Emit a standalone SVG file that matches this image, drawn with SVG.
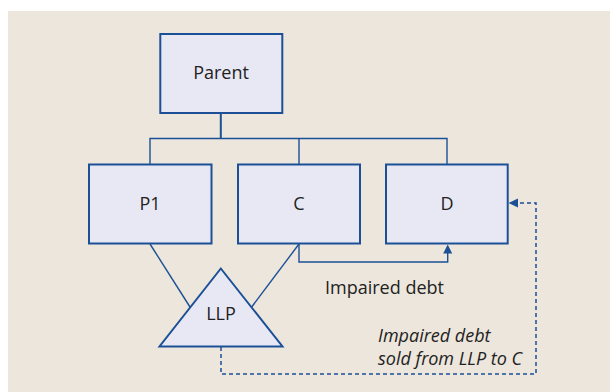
<svg xmlns="http://www.w3.org/2000/svg" width="610" height="392" viewBox="0 0 610 392">
<defs>
<style>
.box{fill:#e8e8f5;stroke:#1b5096;stroke-width:2}
.lbl{font-family:"Open Sans","Noto Sans",sans-serif;font-size:18px;fill:#222;text-anchor:middle}
.ann{font-family:"Open Sans","Noto Sans",sans-serif;font-size:18px;fill:#222}
.it{font-style:italic}
.ln{fill:none;stroke:#1b5096;stroke-width:1.4}
.dash{fill:none;stroke:#1b5096;stroke-width:1.5;stroke-dasharray:4 3}
.ah{fill:#1b5096}
</style>
</defs>
<rect x="8" y="11" width="602" height="381" fill="#ede6dc"/>
<g id="connectors">
<line class="ln" x1="220.8" y1="113" x2="220.8" y2="138.5" style="stroke-width:2"/>
<polyline class="ln" points="150,164 150,138.5 447,138.5 447,164"/>
<line class="ln" x1="299" y1="138.5" x2="299" y2="164"/>
<line class="ln" x1="150" y1="244" x2="190" y2="307"/>
<line class="ln" x1="299" y1="244" x2="251.7" y2="307"/>
<polyline class="ln" points="299,244 299,262 447.7,262 447.7,252"/>
<polygon class="ah" points="447.7,244.5 443.2,253.5 452.2,253.5"/>
<polyline class="dash" points="221,347 221,374 536,374 536,203 517,203"/>
<polygon class="ah" points="508.5,203 518,198.5 518,207.5"/>
</g>
<g id="parent">
<rect class="box" x="160.3" y="34" width="122" height="79"/>
<text class="lbl" x="221" y="79">Parent</text>
</g>
<g id="p1">
<rect class="box" x="89" y="164.5" width="122.5" height="79"/>
<text class="lbl" x="150" y="209.5">P1</text>
</g>
<g id="c">
<rect class="box" x="238" y="164.5" width="122" height="79"/>
<text class="lbl" x="299" y="209.5">C</text>
</g>
<g id="d">
<rect class="box" x="386" y="164.5" width="121.7" height="79"/>
<text class="lbl" x="447" y="209.5">D</text>
</g>
<g id="llp">
<polygon class="box" points="220.8,268.5 159.5,346.5 282.5,346.5"/>
<text class="lbl" x="221" y="320">LLP</text>
</g>
<text class="ann" x="325" y="294">Impaired debt</text>
<text class="ann it" x="378" y="341.5">Impaired debt</text>
<text class="ann it" x="378" y="364.5">sold from LLP to C</text>
</svg>
